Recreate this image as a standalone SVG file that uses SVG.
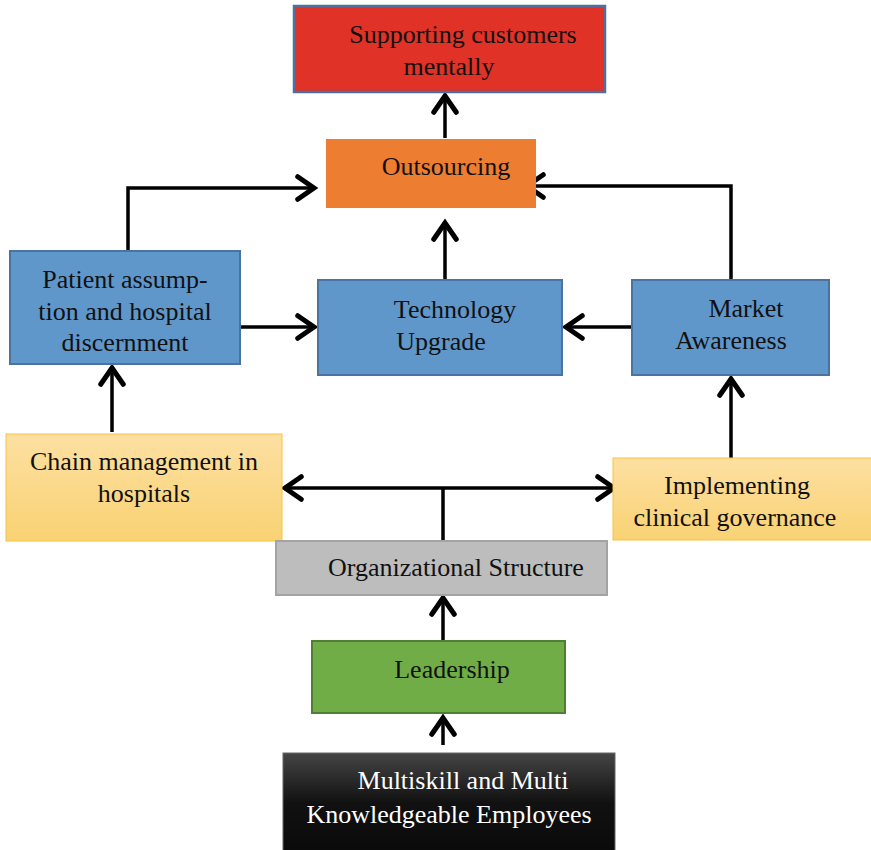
<svg xmlns="http://www.w3.org/2000/svg" width="871" height="850" viewBox="0 0 871 850">
<style>
text{font-family:"Liberation Serif","Times New Roman",serif;font-size:26px;fill:#111}
.c{stroke:#000;stroke-width:3.5;fill:none}
.blue{fill:#5f97cb;stroke:#4a73a0;stroke-width:2}
</style>
<defs>
<marker id="ah" markerUnits="userSpaceOnUse" markerWidth="30" markerHeight="30" viewBox="-16 -12 20 24" refX="0" refY="0" orient="auto">
<path d="M-13,-9 L0,0 L-13,9" fill="none" stroke="#000" stroke-width="4" stroke-linecap="round" stroke-linejoin="miter"/>
</marker>
<linearGradient id="yel" x1="0" y1="0" x2="0" y2="1">
<stop offset="0" stop-color="#fde0a2"/><stop offset="1" stop-color="#f9d273"/>
</linearGradient>
<linearGradient id="blk" x1="0" y1="0" x2="0" y2="1">
<stop offset="0" stop-color="#454545"/><stop offset="0.5" stop-color="#111"/><stop offset="1" stop-color="#0a0a0a"/>
</linearGradient>
</defs>
<g id="connectors">
<path class="c" d="M445,138 V96" marker-end="url(#ah)"/>
<path class="c" d="M445,280 V223" marker-end="url(#ah)"/>
<path class="c" d="M128,251 V188 H314" marker-end="url(#ah)"/>
<path class="c" d="M731,280 V186 H527" marker-end="url(#ah)"/>
<path class="c" d="M240,327 H314" marker-end="url(#ah)"/>
<path class="c" d="M632,327 H566" marker-end="url(#ah)"/>
<path class="c" d="M112,432 V368" marker-end="url(#ah)"/>
<path class="c" d="M731,460 V379" marker-end="url(#ah)"/>
<path class="c" d="M443,541 V488"/>
<path class="c" d="M443,488 H285" marker-end="url(#ah)"/>
<path class="c" d="M443,488 H614" marker-end="url(#ah)"/>
<path class="c" d="M443,641 V598" marker-end="url(#ah)"/>
<path class="c" d="M443,745 V718" marker-end="url(#ah)"/>
</g>
<g id="supporting">
<rect x="294" y="6" width="311" height="86" fill="#e03226" stroke="#4f6f9f" stroke-width="2.5"/>
<text x="463" y="43" text-anchor="middle">Supporting customers</text>
<text x="449" y="75" text-anchor="middle">mentally</text>
</g>
<g id="outsourcing">
<rect x="326" y="139" width="210" height="69" fill="#ed7d31"/>
<text x="446" y="175" text-anchor="middle">Outsourcing</text>
</g>
<g id="patient">
<rect class="blue" x="10" y="251" width="230" height="113"/>
<text x="125" y="288" text-anchor="middle">Patient assump-</text>
<text x="125" y="320" text-anchor="middle">tion and hospital</text>
<text x="125" y="351" text-anchor="middle">discernment</text>
</g>
<g id="technology">
<rect class="blue" x="318" y="280" width="244" height="95"/>
<text x="455" y="318" text-anchor="middle">Technology</text>
<text x="441" y="350" text-anchor="middle">Upgrade</text>
</g>
<g id="market">
<rect class="blue" x="632" y="280" width="197" height="95"/>
<text x="746" y="317" text-anchor="middle">Market</text>
<text x="731" y="349" text-anchor="middle">Awareness</text>
</g>
<g id="chain">
<rect x="6" y="434" width="276" height="107" fill="url(#yel)" stroke="#f5c344" stroke-width="1"/>
<text x="144" y="470" text-anchor="middle">Chain management in</text>
<text x="144" y="502" text-anchor="middle">hospitals</text>
</g>
<g id="implementing">
<rect x="613" y="458" width="262" height="82" fill="url(#yel)" stroke="#f5c344" stroke-width="1"/>
<text x="737" y="494" text-anchor="middle">Implementing</text>
<text x="735" y="526" text-anchor="middle">clinical governance</text>
</g>
<g id="organizational">
<rect x="276" y="541" width="331" height="54" fill="#bdbdbd" stroke="#a3a3a3" stroke-width="2"/>
<text x="456" y="576" text-anchor="middle">Organizational Structure</text>
</g>
<g id="leadership">
<rect x="312" y="641" width="253" height="72" fill="#70ad47" stroke="#507e32" stroke-width="2"/>
<text x="452" y="678" text-anchor="middle">Leadership</text>
</g>
<g id="multiskill">
<rect x="283" y="753" width="332" height="100" fill="url(#blk)" stroke="#666" stroke-width="1"/>
<text x="463" y="789" text-anchor="middle" style="fill:#fff">Multiskill and Multi</text>
<text x="449" y="823" text-anchor="middle" style="fill:#fff">Knowledgeable Employees</text>
</g>
</svg>
